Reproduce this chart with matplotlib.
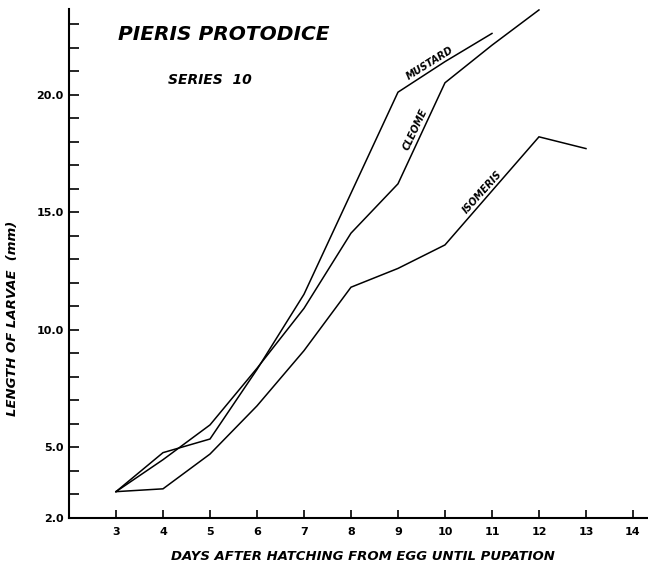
import matplotlib.pyplot as plt
import numpy as np

# larval length (mm) per day after hatching
days_mustard = [3, 4, 5, 6, 7, 8, 9, 10, 11]
mustard = [3.1, 4.76, 5.34, 8.3, 11.5, 15.8, 20.1, 21.4, 22.6]

days_cleome = [3, 4, 5, 6, 7, 8, 9, 10, 11, 12]
cleome = [3.1, 4.46, 5.94, 8.35, 10.9, 14.1, 16.2, 20.5, 22.1, 23.6]

days_isomeris = [3, 4, 5, 6, 7, 8, 9, 10, 11, 12, 13]
isomeris = [3.1, 3.22, 4.7, 6.75, 9.1, 11.8, 12.6, 13.6, 15.9, 18.2, 17.7]

x_ticks = list(range(3, 15))
y_labeled = [2, 5, 10, 15, 20]
y_labels = ['2.0', '5.0', '10.0', '15.0', '20.0']

lettering = dict(family='DejaVu Sans', style='italic', weight='bold', color='black')

fig = plt.figure(figsize=(6.48, 5.64), dpi=100)
ax = fig.add_axes([69 / 648, 1 - 517.5 / 564, 1 - 69 / 648, (517.5 - 9) / 564])

for d, v in [(days_mustard, mustard), (days_cleome, cleome), (days_isomeris, isomeris)]:
    ax.plot(d, v, color='black', lw=1.1, solid_joinstyle='miter')

ax.set_xlim(2, 14.32)
ax.set_ylim(2, 23.64)

ax.spines['top'].set_visible(False)
ax.spines['right'].set_visible(False)
ax.spines['left'].set_linewidth(1.5)
ax.spines['bottom'].set_linewidth(1.5)

ax.set_xticks(x_ticks)
ax.set_xticklabels([str(t) for t in x_ticks], fontsize=8, weight='bold')
ax.set_yticks(y_labeled)
ax.set_yticklabels(y_labels, fontsize=8, weight='bold')
ax.set_yticks([t for t in range(3, 24) if t not in y_labeled], minor=True)
ax.tick_params(axis='y', which='both', direction='in', length=7, width=1.2, pad=4)
ax.tick_params(axis='x', direction='in', length=6, width=1.2, pad=7)

# axis titles placed on the figure so they stay inside the canvas
fig.text(363 / 648, 1 - 557 / 564, 'DAYS AFTER HATCHING FROM EGG UNTIL PUPATION',
         fontsize=9.5, ha='center', va='center', **lettering)
fig.text(13 / 648, 1 - 318 / 564, 'LENGTH OF LARVAE  (mm)', fontsize=9.5,
         rotation=90, ha='center', va='center', **lettering)

ax.text(3.05, 22.3, 'PIERIS PROTODICE', fontsize=14.5, **lettering)
ax.text(4.1, 20.45, 'SERIES  10', fontsize=10, **lettering)

# curve labels set along the lines
ax.text(9.68, 21.35, 'MUSTARD', fontsize=7, rotation=32, ha='center', va='center', **lettering)
ax.text(9.36, 18.5, 'CLEOME', fontsize=7, rotation=65, ha='center', va='center', **lettering)
ax.text(10.79, 15.85, 'ISOMERIS', fontsize=7, rotation=48, ha='center', va='center', **lettering)

fig.savefig('out.png', dpi=100)
